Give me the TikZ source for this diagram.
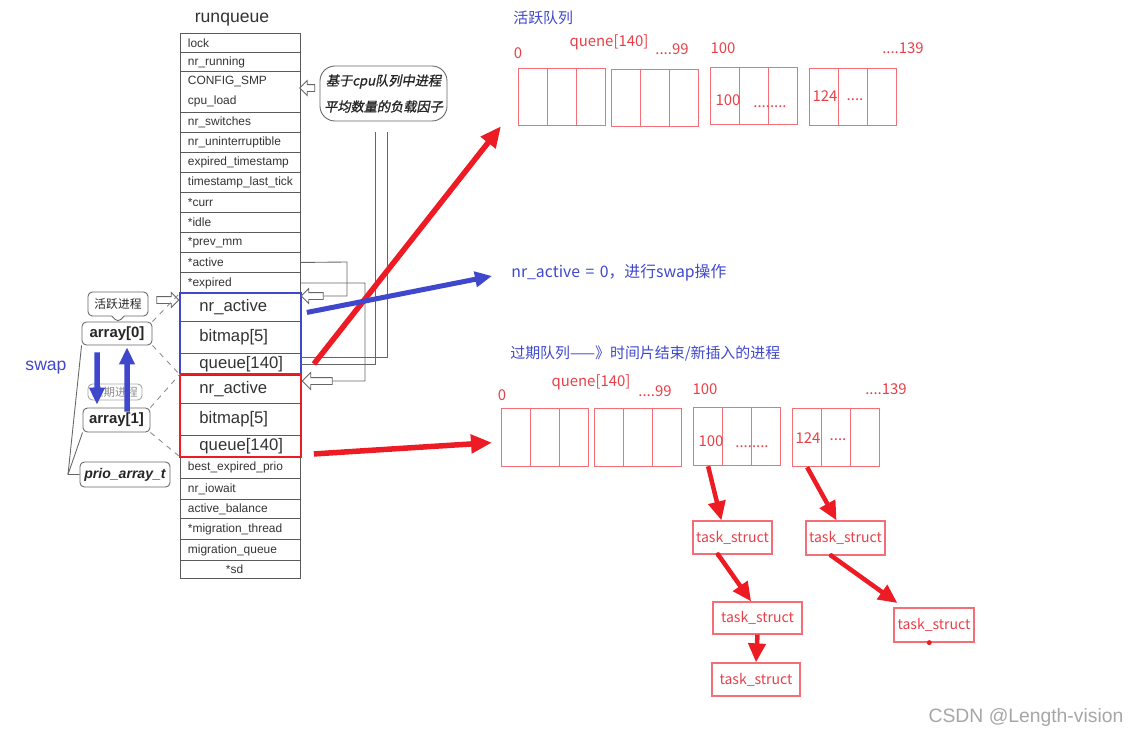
\documentclass[tikz,border=0pt]{standalone}
\usepackage{fontspec}
\setmainfont{Liberation Sans}
\newfontfamily\cjk{Noto Sans CJK SC}
\newfontfamily\cjkbi[FakeSlant=0.2,FakeBold=1.2]{Noto Sans CJK SC}
\usetikzlibrary{arrows.meta,shapes.arrows,shapes.callouts}
\definecolor{swapblue}{RGB}{63,72,204}
\definecolor{ptrred}{RGB}{237,28,36}
\definecolor{cellred}{RGB}{243,110,118}
\definecolor{lblred}{RGB}{232,64,72}
\definecolor{rqgray}{RGB}{90,90,90}

\begin{document}
\begin{tikzpicture}[x=0.2mm, y=-0.2mm,
    fld/.style={draw=rqgray, line width=0.5pt, anchor=north west, inner xsep=1.5mm, inner ysep=0pt, text width=21mm, align=left, font=\fontsize{6.8}{8}\selectfont, text=black!80},
    bigfld/.style={fld, inner xsep=3.8mm, text width=16.4mm, font=\fontsize{9.5}{11}\selectfont},
    cell/.style={draw=cellred, line width=0.7pt, anchor=north west, minimum width=5.8mm, inner sep=0pt},
    tsk/.style={draw=cellred, line width=0.7pt, inner sep=0pt, font=\cjk\fontsize{8}{9}\selectfont, text=lblred},
    idx/.style={font=\cjk\fontsize{8.5}{10}\selectfont, text=lblred, inner sep=0pt},
    note/.style={font=\cjk\fontsize{8.5}{10}\selectfont, text=swapblue, inner sep=0pt, anchor=west},
    tag/.style={draw=black!60, rounded corners=2.5pt, line width=0.5pt, inner sep=0pt, text=black!85},
    hollow/.style={single arrow, draw=black!60, fill=white, line width=0.5pt, inner sep=0pt, text height=0.6mm, text depth=0.6mm, single arrow head extend=0.8mm},
    ptr/.style={draw=black!60, line width=0.5pt},
    dashlink/.style={draw=black!45, dashed, line width=0.5pt},
    redarrow/.style={draw=ptrred, line width=1.1mm, -{Triangle[length=4.2mm,width=3.6mm]}},
    taskarrow/.style={draw=ptrred, line width=0.9mm, -{Triangle[length=3.8mm,width=3.4mm]}},
    bluearrow/.style={draw=swapblue, line width=1.1mm, -{Triangle[length=3.4mm,width=3mm]}}
]
    \useasboundingbox (0,0) rectangle (1135,737);

    % runqueue
    \node[font=\fontsize{10}{12}\selectfont, text=black!80] (title) at (232,20) {runqueue};
    \node[fld, minimum height=3.8mm] (lock) at (180,33) {lock};
    \node[fld, minimum height=3.8mm] (nrrun) at (180,52) {nr\_running};
    \node[fld, minimum height=8.2mm] (smp) at (180,71) {CONFIG\_SMP\\[1.2mm]cpu\_load};
    \node[fld, minimum height=4mm] (nrsw) at (180,112) {nr\_switches};
    \node[fld, minimum height=4mm] (nrun) at (180,132) {nr\_uninterruptible};
    \node[fld, minimum height=4mm] (exts) at (180,152) {expired\_timestamp};
    \node[fld, minimum height=4mm] (tslt) at (180,172) {timestamp\_last\_tick};
    \node[fld, minimum height=4mm] (curr) at (180,192) {*curr};
    \node[fld, minimum height=4mm] (idle) at (180,212) {*idle};
    \node[fld, minimum height=4mm] (prev) at (180,232) {*prev\_mm};
    \node[fld, minimum height=4mm] (active) at (180,252) {*active};
    \node[fld, minimum height=4.2mm] (expired) at (180,272) {*expired};
    \node[bigfld, minimum height=5.6mm] (bna) at (180,293) {nr\_active};
    \node[bigfld, minimum height=6.4mm] (bbm) at (180,321) {bitmap[5]};
    \node[bigfld, minimum height=4.2mm] (bq) at (180,353) {queue[140]};
    \node[bigfld, minimum height=5.8mm] (rna) at (180,374) {nr\_active};
    \node[bigfld, minimum height=6.4mm] (rbm) at (180,403) {bitmap[5]};
    \node[bigfld, minimum height=4.2mm] (rq) at (180,435) {queue[140]};
    \node[fld, minimum height=4.4mm] (bep) at (180,456) {best\_expired\_prio};
    \node[fld, minimum height=4.2mm] (iow) at (180,478) {nr\_iowait};
    \node[fld, minimum height=3.8mm] (abal) at (180,499) {active\_balance};
    \node[fld, minimum height=4.2mm] (mth) at (180,518) {*migration\_thread};
    \node[fld, minimum height=4.2mm] (mq) at (180,539) {migration\_queue};
    \node[fld, minimum height=3.6mm] (sd) at (180,560) {\hspace*{7.6mm}*sd};

    \draw[swapblue, line width=1.2pt] (bna.north west) rectangle (bq.south east);
    \draw[ptrred, line width=1.2pt] (rna.north west) rectangle (rq.south east);

    % pointers out of the table
    \node[hollow, minimum height=4.4mm, shape border rotate=180] (h3) at (314,296) {};
    \node[hollow, minimum height=6mm, single arrow head extend=1mm, shape border rotate=180] (h4) at (319,381) {};
    \draw[ptr] (active.east) -- (347,262) -- (347,296) -- (h3.east);
    \draw[ptr] (expired.east) -- (365,283) -- (365,381) -- (h4.east);
    \coordinate (railA) at (387,132);
    \coordinate (railB) at (375,132);
    \draw[ptr] (railB) |- (bq.east);
    \draw[ptr] (railA) |- ([yshift=1.3mm]bq.east);

    \node[tag, rounded corners=3mm, minimum width=25.4mm, minimum height=11mm, align=center, font=\cjkbi\fontsize{7.5}{14.8}\selectfont] (cpunote) at (383.5,93.5) {基于cpu队列中进程\\平均数量的负载因子};
    \node[hollow, minimum height=3mm, shape border rotate=180] (h1) at (309,88) {};

    % prio_array_t
    \node[tag, minimum width=14mm, minimum height=4.6mm, font=\bfseries\fontsize{8.5}{10}\selectfont] (arr0) at (117,333.5) {array[0]};
    \node[tag, rectangle callout, callout relative pointer={(0mm,-1.3mm)}, minimum width=12mm, minimum height=4.8mm, font=\cjk\fontsize{6.7}{8}\selectfont] (acttag) at (118,304) {活跃进程};
    \node[hollow, minimum height=4.4mm] (h2) at (166,300) {};
    \node[tag, draw=black!35, minimum width=10.8mm, minimum height=3.2mm, text=black!45, font=\cjk\fontsize{6.5}{8}\selectfont] (exptag) at (115,392) {过期进程};
    \node[tag, minimum width=13.4mm, minimum height=4.8mm, font=\bfseries\fontsize{8.5}{10}\selectfont] (arr1) at (116.5,420) {array[1]};
    \node[tag, minimum width=18mm, minimum height=5mm, font=\bfseries\itshape\fontsize{8}{10}\selectfont] (prio) at (125,474.5) {prio\_array\_t};

    \draw[dashlink] (arr0.north east) -- (bna.north west);
    \draw[dashlink] (arr0.south east) -- (bq.south west);
    \draw[dashlink] (arr1.north east) -- (rna.north west);
    \draw[dashlink] (arr1.south east) -- (rq.south west);
    \coordinate (pj) at (68,474.5);
    \draw[ptr] (prio.west) -- (pj) -- (arr0.south west);
    \draw[ptr] (pj) -- (arr1.south west);

    \node[text=swapblue, font=\fontsize{10}{12}\selectfont] (swap) at (46,368) {swap};
    \draw[bluearrow] ([xshift=-4mm,yshift=-1.4mm]arr0.south) -- ([xshift=-3.9mm,yshift=0.6mm]arr1.north);
    \draw[bluearrow] ([xshift=2.1mm,yshift=-0.8mm]arr1.north) -- ([xshift=2mm,yshift=-0.4mm]arr0.south);

    % active queue
    \node[note] (acttitle) at (513,18) {活跃队列};
    \node[cell, minimum height=11.4mm] (aq1) at (518,68) {};
    \node[cell, minimum height=11.4mm] (aq2) at (547,68) {};
    \node[cell, minimum height=11.4mm] (aq3) at (576,68) {};
    \node[cell, minimum height=11.4mm] (aq4) at (611,69) {};
    \node[cell, minimum height=11.4mm] (aq5) at (640,69) {};
    \node[cell, minimum height=11.4mm] (aq6) at (669,69) {};
    \node[cell, minimum height=11.4mm] (aq7) at (710,67) {};
    \node[cell, minimum height=11.4mm] (aq8) at (739,67) {};
    \node[cell, minimum height=11.4mm] (aq9) at (768,67) {};
    \node[cell, minimum height=11.4mm] (aq10) at (809,68) {};
    \node[cell, minimum height=11.4mm] (aq11) at (838,68) {};
    \node[cell, minimum height=11.4mm] (aq12) at (867,68) {};
    \node[idx] (al0) at (518,53) {0};
    \node[idx] (alq) at (609,42) {quene[140]};
    \node[idx] (al99) at (672,49) {....99};
    \node[idx] (al100) at (723,48) {100};
    \node[idx] (al139) at (903,48) {....139};
    \node[idx] (ai100) at (728,100) {100};
    \node[idx] (aidots) at (770,107) {........};
    \node[idx] (ai124) at (825,96) {124};
    \node[idx] (aidot) at (855,100) {....};

    % expired queue
    \node[note] (exptitle) at (510,354) {过期队列——》时间片结束/新插入的进程};
    \node[cell, minimum height=11.6mm] (eq1) at (501,408) {};
    \node[cell, minimum height=11.6mm] (eq2) at (530,408) {};
    \node[cell, minimum height=11.6mm] (eq3) at (559,408) {};
    \node[cell, minimum height=11.6mm] (eq4) at (594,408) {};
    \node[cell, minimum height=11.6mm] (eq5) at (623,408) {};
    \node[cell, minimum height=11.6mm] (eq6) at (652,408) {};
    \node[cell, minimum height=11.6mm] (eq7) at (693,407) {};
    \node[cell, minimum height=11.6mm] (eq8) at (722,407) {};
    \node[cell, minimum height=11.6mm] (eq9) at (751,407) {};
    \node[cell, minimum height=11.6mm] (eq10) at (792,408) {};
    \node[cell, minimum height=11.6mm] (eq11) at (821,408) {};
    \node[cell, minimum height=11.6mm] (eq12) at (850,408) {};
    \node[idx] (el0) at (502,395) {0};
    \node[idx] (elq) at (591,382) {quene[140]};
    \node[idx] (el99) at (655,391) {....99};
    \node[idx] (el100) at (705,389) {100};
    \node[idx] (el139) at (886,389) {....139};
    \node[idx] (ei100) at (711,441) {100};
    \node[idx] (eidots) at (752,447) {........};
    \node[idx] (ei124) at (808,438) {124};
    \node[idx] (eidot) at (838,440) {....};

    % task lists
    \node[tsk, minimum width=15.8mm, minimum height=6.6mm] (tsA1) at (732.5,537.5) {task\_struct};
    \node[tsk, minimum width=17.8mm, minimum height=6.4mm] (tsA2) at (757.5,618) {task\_struct};
    \node[tsk, minimum width=17.6mm, minimum height=6.6mm] (tsA3) at (756,679.5) {task\_struct};
    \node[tsk, minimum width=15.8mm, minimum height=6.8mm] (tsB1) at (845.5,538) {task\_struct};
    \node[tsk, minimum width=16mm, minimum height=6.8mm] (tsB2) at (934,625) {task\_struct};

    \draw[taskarrow] (eq7.south) -- (tsA1.123);
    \draw[taskarrow] (eq10.south) -- (tsB1.117);
    \draw[taskarrow] (tsA1.230) -- (tsA2.111);
    \draw[taskarrow, shorten >=1.5mm] (tsB1.231) -- (tsB2.150);
    \draw[taskarrow] (tsA2.south) -- (tsA3.north);
    \fill[ptrred] (tsA1.230) circle (0.5mm);
    \fill[ptrred] (tsB1.231) circle (0.5mm);
    \fill[ptrred] (tsB2.255) circle (0.5mm);

    % swap note and queue pointers
    \node[note, font=\cjk\fontsize{9}{10}\selectfont] (swaptxt) at (511,273) {nr\_active\hspace{0.35em}=\hspace{0.35em}0，进行swap操作};
    \draw[redarrow] ([xshift=2.6mm]bq.east) -- ([xshift=-3.4mm]aq1.south west);
    \draw[bluearrow, line width=1mm] ([xshift=1.2mm,yshift=-1mm]bna.east) -- ([xshift=-3.8mm,yshift=-0.6mm]swaptxt.west);
    \draw[redarrow] ([xshift=2.6mm,yshift=-1.6mm]rq.east) -- ([xshift=-1.8mm,yshift=-1mm]eq1.west);

    \node[text=black!35, font=\fontsize{11}{13}\selectfont] (mark) at (1026,717) {CSDN @Length-vision};
\end{tikzpicture}
\end{document}
